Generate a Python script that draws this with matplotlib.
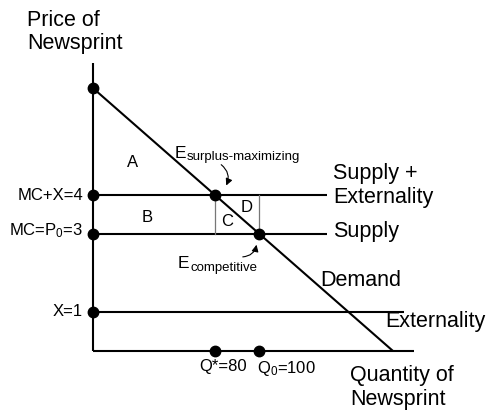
import numpy as np
import matplotlib
matplotlib.use("Agg")
import matplotlib.pyplot as plt
from matplotlib.patches import FancyArrowPatch

plt.rcParams['font.family'] = ['Liberation Sans', 'DejaVu Sans']
plt.rcParams['mathtext.fontset'] = 'custom'
plt.rcParams['mathtext.rm'] = 'Liberation Sans'
plt.rcParams['mathtext.it'] = 'Liberation Sans'
plt.rcParams['mathtext.bf'] = 'Liberation Sans'

# ---- data (schematic diagram units) ----
price_levels = [4, 3, 1]
price_labels = ["MC+X=4", "MC=P$_0$=3", "X=1"]
curve_names = ["Supply +\nExternality", "Supply", "Externality"]
demand_q = [0, 300]
demand_p = [6.74, 0]
quantity_labels = ["Q*=80", "Q$_0$=100"]
area_labels = ["A", "B", "C", "D"]

W, H = 489, 412
OX, OY, PPU = 93, 351, 39.0

fig = plt.figure(figsize=(W / 100, H / 100), dpi=100)
ax = fig.add_axes([0, 0, 1, 1])
ax.set_xlim(-OX, W - OX)
ax.set_ylim(-(H - OY) / PPU, OY / PPU)
ax.axis('off')


def ptxt(x, y, s, **kw):
    fig.text(x / W, 1 - y / H, s, **kw)


lw = 1.5
# axes
ax.plot([0, 0], [0, (OY - 63) / PPU], color='black', lw=lw, solid_capstyle='butt')
ax.plot([0, 414 - OX], [0, 0], color='black', lw=lw, solid_capstyle='butt')

# horizontal curves
line_ends = [327 - OX, 327 - OX, 404 - OX]
for p, e in zip(price_levels, line_ends):
    ax.plot([0, e], [p, p], color='black', lw=lw, solid_capstyle='butt')

# demand
ax.plot(demand_q, demand_p, color='black', lw=lw, solid_capstyle='butt')

# equilibria
q_star = np.interp(price_levels[0], demand_p[::-1], demand_q[::-1])
q_zero = np.interp(price_levels[1], demand_p[::-1], demand_q[::-1])

# thin verticals for C and D
for q in (q_star, q_zero):
    ax.plot([q, q], [price_levels[1], price_levels[0]], color='#777777', lw=0.9)

ms = 7.5
ax.plot([0] * 4, [demand_p[0]] + price_levels, 'o', color='black', ms=ms)
ax.plot([q_star, q_zero], [price_levels[0], price_levels[1]], 'o', color='black', ms=ms)
ax.plot([q_star, q_zero], [0, 0], 'o', color='black', ms=ms)

big = 15.5
ptxt(27, 20, "Price of", fontsize=big, va='center', ha='left')
ptxt(27, 43, "Newsprint", fontsize=big, va='center', ha='left')
ptxt(350, 375, "Quantity of", fontsize=big, va='center', ha='left')
ptxt(350, 400, "Newsprint", fontsize=big, va='center', ha='left')

ptxt(333, 174, "Supply +", fontsize=big, va='center', ha='left')
ptxt(333, 198, "Externality", fontsize=big, va='center', ha='left')
ptxt(333, 232, curve_names[1], fontsize=big, va='center', ha='left')
ptxt(385, 321, curve_names[2], fontsize=big, va='center', ha='left')
ptxt(320, 281, "Demand", fontsize=big, va='center', ha='left')

small = 12
ptxt(83, 196, price_labels[0], fontsize=small, va='center', ha='right')
ptxt(83, 231, price_labels[1], fontsize=small, va='center', ha='right')
ptxt(83, 311, price_labels[2], fontsize=small, va='center', ha='right')

ptxt(223, 367, quantity_labels[0], fontsize=small, va='center', ha='center')
ptxt(286, 368, quantity_labels[1], fontsize=small, va='center', ha='center')

for (x, y), s in zip([(133, 162), (147, 217), (227, 222), (247, 208)], area_labels):
    ptxt(x, y, s, fontsize=small, va='center', ha='center')

# E labels
ptxt(175, 158, "E", fontsize=12.5, va='baseline', ha='left')
ptxt(187, 160, "surplus-maximizing", fontsize=9.5, va='baseline', ha='left')
ptxt(178, 268, "E", fontsize=12.5, va='baseline', ha='left')
ptxt(191, 271, "competitive", fontsize=9.5, va='baseline', ha='left')


def to_fig(x, y):
    return (x / W, 1 - y / H)


a1 = FancyArrowPatch(to_fig(219, 163), to_fig(225, 188), transform=fig.transFigure,
                     connectionstyle="arc3,rad=-0.45", arrowstyle="-|>,head_length=4,head_width=2",
                     color='black', lw=0.8)
a2 = FancyArrowPatch(to_fig(240, 257), to_fig(257, 242), transform=fig.transFigure,
                     connectionstyle="arc3,rad=0.45", arrowstyle="-|>,head_length=4,head_width=2",
                     color='black', lw=0.8)
fig.patches.extend([a1, a2])

fig.savefig("out.png", dpi=100)
